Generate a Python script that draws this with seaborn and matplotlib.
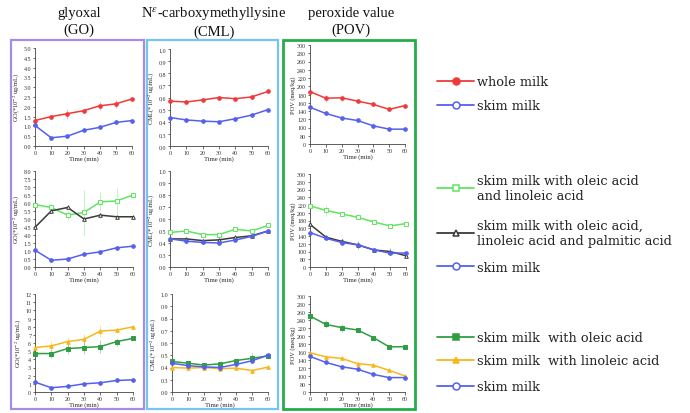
import numpy as np
import pandas as pd
import matplotlib
matplotlib.use("Agg")
import matplotlib.pyplot as plt
from matplotlib.lines import Line2D
from matplotlib.patches import Rectangle
import seaborn as sns

# ---------------- data ----------------
time = [0, 10, 20, 30, 40, 50, 60]

# glyoxal (GO, *10^-2 ug/mL)
go_whole = [1.30, 1.50, 1.65, 1.80, 2.05, 2.15, 2.40]
go_whole_err = [0.05, 0.08, 0.25, 0.10, 0.20, 0.22, 0.20]
go_skim = [1.05, 0.42, 0.50, 0.80, 0.95, 1.20, 1.30]
go_skim_err = [0.03, 0.04, 0.08, 0.05, 0.06, 0.06, 0.08]
go_ol = [5.90, 5.72, 5.24, 5.41, 6.07, 6.13, 6.50]
go_ol_err = [0.10, 0.10, 0.30, 1.40, 0.60, 0.80, 0.10]
go_olp = [4.48, 5.51, 5.72, 5.00, 5.24, 5.14, 5.14]
go_olp_err = [0.05, 0.05, 0.05, 0.05, 0.15, 0.05, 0.05]
go_o = [4.71, 4.71, 5.32, 5.44, 5.56, 6.17, 6.57]
go_o_err = [0.20, 0.50, 0.70, 0.80, 0.80, 0.50, 0.30]
go_l = [5.44, 5.65, 6.17, 6.45, 7.46, 7.58, 7.98]
go_l_err = [0.30, 0.60, 0.60, 0.70, 0.70, 0.40, 0.50]
go_skim3 = [1.21, 0.52, 0.69, 1.00, 1.13, 1.41, 1.49]
go_skim3_err = [0.05, 0.05, 0.08, 0.05, 0.06, 0.06, 0.08]

# N-carboxymethyllysine (CML, *10^-2 ug/mL)
cml_whole = [0.57, 0.563, 0.58, 0.60, 0.59, 0.605, 0.65]
cml_whole_err = [0.01, 0.015, 0.01, 0.01, 0.01, 0.01, 0.025]
cml_skim = [0.435, 0.415, 0.405, 0.40, 0.425, 0.455, 0.50]
cml_skim_err = [0.01, 0.02, 0.015, 0.01, 0.01, 0.01, 0.025]
cml_ol = [0.488, 0.50, 0.47, 0.47, 0.515, 0.50, 0.546]
cml_ol_err = [0.01, 0.01, 0.01, 0.015, 0.015, 0.01, 0.01]
cml_olp = [0.434, 0.434, 0.42, 0.426, 0.446, 0.46, 0.50]
cml_olp_err = [0.01, 0.01, 0.01, 0.01, 0.01, 0.01, 0.01]
cml_o = [0.449, 0.435, 0.42, 0.43, 0.457, 0.475, 0.495]
cml_o_err = [0.01, 0.01, 0.01, 0.01, 0.01, 0.04, 0.02]
cml_l = [0.40, 0.395, 0.40, 0.39, 0.395, 0.375, 0.403]
cml_l_err = [0.01, 0.01, 0.01, 0.01, 0.01, 0.01, 0.01]

# peroxide value (POV, meq/kg)
pov_whole = [187, 171, 172, 164, 156, 144, 153]
pov_whole_err = [3, 8, 8, 3, 3, 3, 4]
pov_skim = [149, 134, 123, 117, 104, 96, 96]
pov_skim_err = [3, 3, 3, 3, 6, 4, 3]
pov_ol = [218, 206, 197, 188, 176, 166, 172]
pov_ol_err = [3, 15, 3, 5, 5, 3, 3]
pov_olp = [170, 137, 126, 117, 104, 100, 89]
pov_olp_err = [3, 3, 6, 10, 6, 8, 6]
pov_o = [250, 229, 221, 215, 196, 173, 173]
pov_o_err = [3, 10, 10, 3, 3, 3, 3]
pov_l = [158, 148, 144, 131, 127, 114, 100]
pov_l_err = [3, 3, 3, 3, 3, 3, 3]

col_titles = ["glyoxal\n(GO)", "N$^{\\varepsilon}$-carboxymethyllysine\n(CML)", "peroxide value\n(POV)"]

# ---------------- style ----------------
sns.set_theme(style="ticks")
plt.rcParams["font.family"] = ["Liberation Serif", "DejaVu Serif"]
plt.rcParams["mathtext.fontset"] = "stix"

RED = "#f03a3a"
BLUE = "#5560ee"
LGREEN = "#5fe65f"
BLACK = "#3a3a3a"
DGREEN = "#2f9e44"
YELLOW = "#f7b81c"

W, H = 690, 414
fig = plt.figure(figsize=(W / 100, H / 100), dpi=100)
fig.patch.set_facecolor("white")


def px_axes(x0, x1, yt, yb):
    return fig.add_axes([x0 / W, 1 - yb / H, (x1 - x0) / W, (yb - yt) / H])


def interp_scale(src, dst):
    return (lambda v: np.interp(v, src, dst), lambda p: np.interp(p, dst, src))


go2_scale = interp_scale([-10, 1.5, 4.0, 20], [-20, 3, 4, 36])
cml_scale = interp_scale([-1, 0, 0.3, 2], [-0.8, 0.2, 0.3, 2])
pov_scale = interp_scale([-100, 0, 80, 1000], [-40, 60, 80, 1000])


def panel(ax, series, ylim, yticks, ylabels, ylabel, scale=None):
    if scale is not None:
        ax.set_yscale("function", functions=scale)
    for vals, errs, color, marker, mfc in series:
        ax.errorbar(time, vals, yerr=errs, fmt="none", ecolor=color, alpha=0.45,
                    elinewidth=0.6, capsize=0, zorder=2)
        sns.lineplot(x=time, y=vals, color=color, marker=marker, mfc=mfc, mec=color,
                     ms=2.6, mew=0.7, lw=1.1, ax=ax, zorder=3, clip_on=False)
    ax.set_xlim(0, 60)
    ax.set_ylim(*ylim)
    ax.set_xticks(time)
    ax.set_xticklabels([str(t) for t in time])
    ax.set_yticks(yticks)
    ax.set_yticklabels(ylabels)
    ax.yaxis.set_minor_locator(matplotlib.ticker.NullLocator())
    ax.tick_params(labelsize=4.3, length=1.8, width=0.5, pad=1, colors="#333333")
    for s in ["top", "right"]:
        ax.spines[s].set_visible(False)
    for s in ["left", "bottom"]:
        ax.spines[s].set_linewidth(0.6)
        ax.spines[s].set_color("#444444")
    ax.set_xlabel("Time (min)", fontsize=4.8, labelpad=0.3)
    ax.set_ylabel(ylabel, fontsize=4.6, labelpad=1)
    ax.set_facecolor("white")


go_lab = "GO(*10$^{-2}$ ug/mL)"
cml_lab = "CML(*10$^{-2}$ ug/mL)"
pov_lab = "POV (meq/kg)"

go1_t = np.arange(0, 5.01, 0.5)
go2_t = [0, 0.5, 1.0, 1.5, 4.0, 4.5, 5.0, 5.5, 6.0, 6.5, 7.0, 7.5, 8.0]
go3_t = list(range(0, 13))
cml_t = [0, 0.3, 0.4, 0.5, 0.6, 0.7, 0.8, 0.9, 1.0]
pov_t = [0] + list(range(80, 301, 20))

# row 1
ax = px_axes(35, 132, 49, 147)
panel(ax, [(go_whole, go_whole_err, RED, "o", RED), (go_skim, go_skim_err, BLUE, "o", BLUE)],
      (0, 5), go1_t, [f"{v:.1f}" for v in go1_t], go_lab)
ax = px_axes(170, 268, 50, 147)
panel(ax, [(cml_whole, cml_whole_err, RED, "o", RED), (cml_skim, cml_skim_err, BLUE, "o", BLUE)],
      (0, 1.0), cml_t, [f"{v:.1f}".replace(".", ",") for v in cml_t], cml_lab, cml_scale)
ax = px_axes(310, 405, 46, 145)
panel(ax, [(pov_whole, pov_whole_err, RED, "o", RED), (pov_skim, pov_skim_err, BLUE, "o", BLUE)],
      (0, 300), pov_t, [str(v) for v in pov_t], pov_lab, pov_scale)

# row 2
ax = px_axes(35, 133, 172, 268)
panel(ax, [(go_ol, go_ol_err, LGREEN, "s", "white"), (go_olp, go_olp_err, BLACK, "^", "white"),
           (go_skim, go_skim_err, BLUE, "o", BLUE)],
      (0, 8), go2_t, [f"{v:.1f}" for v in go2_t], go_lab, go2_scale)
ax = px_axes(170, 268, 172, 268)
panel(ax, [(cml_ol, cml_ol_err, LGREEN, "s", "white"), (cml_olp, cml_olp_err, BLACK, "^", "white"),
           (cml_skim, cml_skim_err, BLUE, "o", BLUE)],
      (0, 1.0), cml_t, [f"{v:.1f}" for v in cml_t], cml_lab, cml_scale)
ax = px_axes(310, 406, 175, 268)
panel(ax, [(pov_ol, pov_ol_err, LGREEN, "s", "white"), (pov_olp, pov_olp_err, BLACK, "^", "white"),
           (pov_skim, pov_skim_err, BLUE, "o", BLUE)],
      (0, 300), pov_t, [str(v) for v in pov_t], pov_lab, pov_scale)

# row 3
ax = px_axes(35, 133, 295, 393)
panel(ax, [(go_l, go_l_err, YELLOW, "^", YELLOW), (go_o, go_o_err, DGREEN, "s", DGREEN),
           (go_skim3, go_skim3_err, BLUE, "o", BLUE)],
      (0, 12), go3_t, [str(v) for v in go3_t], go_lab)
ax = px_axes(172, 268, 295, 393)
panel(ax, [(cml_l, cml_l_err, YELLOW, "^", YELLOW), (cml_o, cml_o_err, DGREEN, "s", DGREEN),
           (cml_skim, cml_skim_err, BLUE, "o", BLUE)],
      (0, 1.0), cml_t, [f"{v:.1f}" for v in cml_t], cml_lab, cml_scale)
ax = px_axes(310, 405, 297, 393)
panel(ax, [(pov_l, pov_l_err, YELLOW, "^", YELLOW), (pov_o, pov_o_err, DGREEN, "s", DGREEN),
           (pov_skim, pov_skim_err, BLUE, "o", BLUE)],
      (0, 300), pov_t, [str(v) for v in pov_t], pov_lab, pov_scale)

# column boxes
boxes = [(11, 144, "#a88be4", 1.6), (147, 278, "#74c6f0", 1.6), (283, 415, "#25ad4a", 2.0)]
for x0, x1, c, lw in boxes:
    fig.patches.append(Rectangle((x0 / W, 1 - 410 / H), (x1 - x0) / W, (410 - 41) / H,
                                 transform=fig.transFigure, fill=False, edgecolor=c,
                                 linewidth=lw, zorder=-1))

# column titles
for xc, t in zip([79, 214, 351], col_titles):
    fig.text(xc / W, 1 - 22 / H, t, ha="center", va="center", fontsize=10.5,
             linespacing=1.25, color="#111111")

# legend entries
legend_entries = [
    (83, RED, "o", RED, "whole milk"),
    (107, BLUE, "o", "white", "skim milk"),
    (189, LGREEN, "s", "white", "skim milk with oleic acid\nand linoleic acid"),
    (234, BLACK, "^", "white", "skim milk with oleic acid,\nlinoleic acid and palmitic acid"),
    (268, BLUE, "o", "white", "skim milk"),
    (339, DGREEN, "s", DGREEN, "skim milk  with oleic acid"),
    (362, YELLOW, "^", YELLOW, "skim milk  with linoleic acid"),
    (388, BLUE, "o", "white", "skim milk"),
]
for yc, c, m, mfc, lab in legend_entries:
    h = Line2D([], [], color=c, marker=m, mfc=mfc, mec=c, ms=5, mew=1.1, lw=1.3)
    leg = fig.legend(handles=[h], labels=[lab], loc="center left",
                     bbox_to_anchor=(437 / W, 1 - yc / H), frameon=False,
                     prop={"family": "DejaVu Serif", "size": 9.3},
                     handlelength=2.9, handletextpad=0.2,
                     borderpad=0, borderaxespad=0)
    for t in leg.get_texts():
        t.set_linespacing(1.25)
        t.set_color("#222222")

fig.savefig("out.png", dpi=100, facecolor="white")
